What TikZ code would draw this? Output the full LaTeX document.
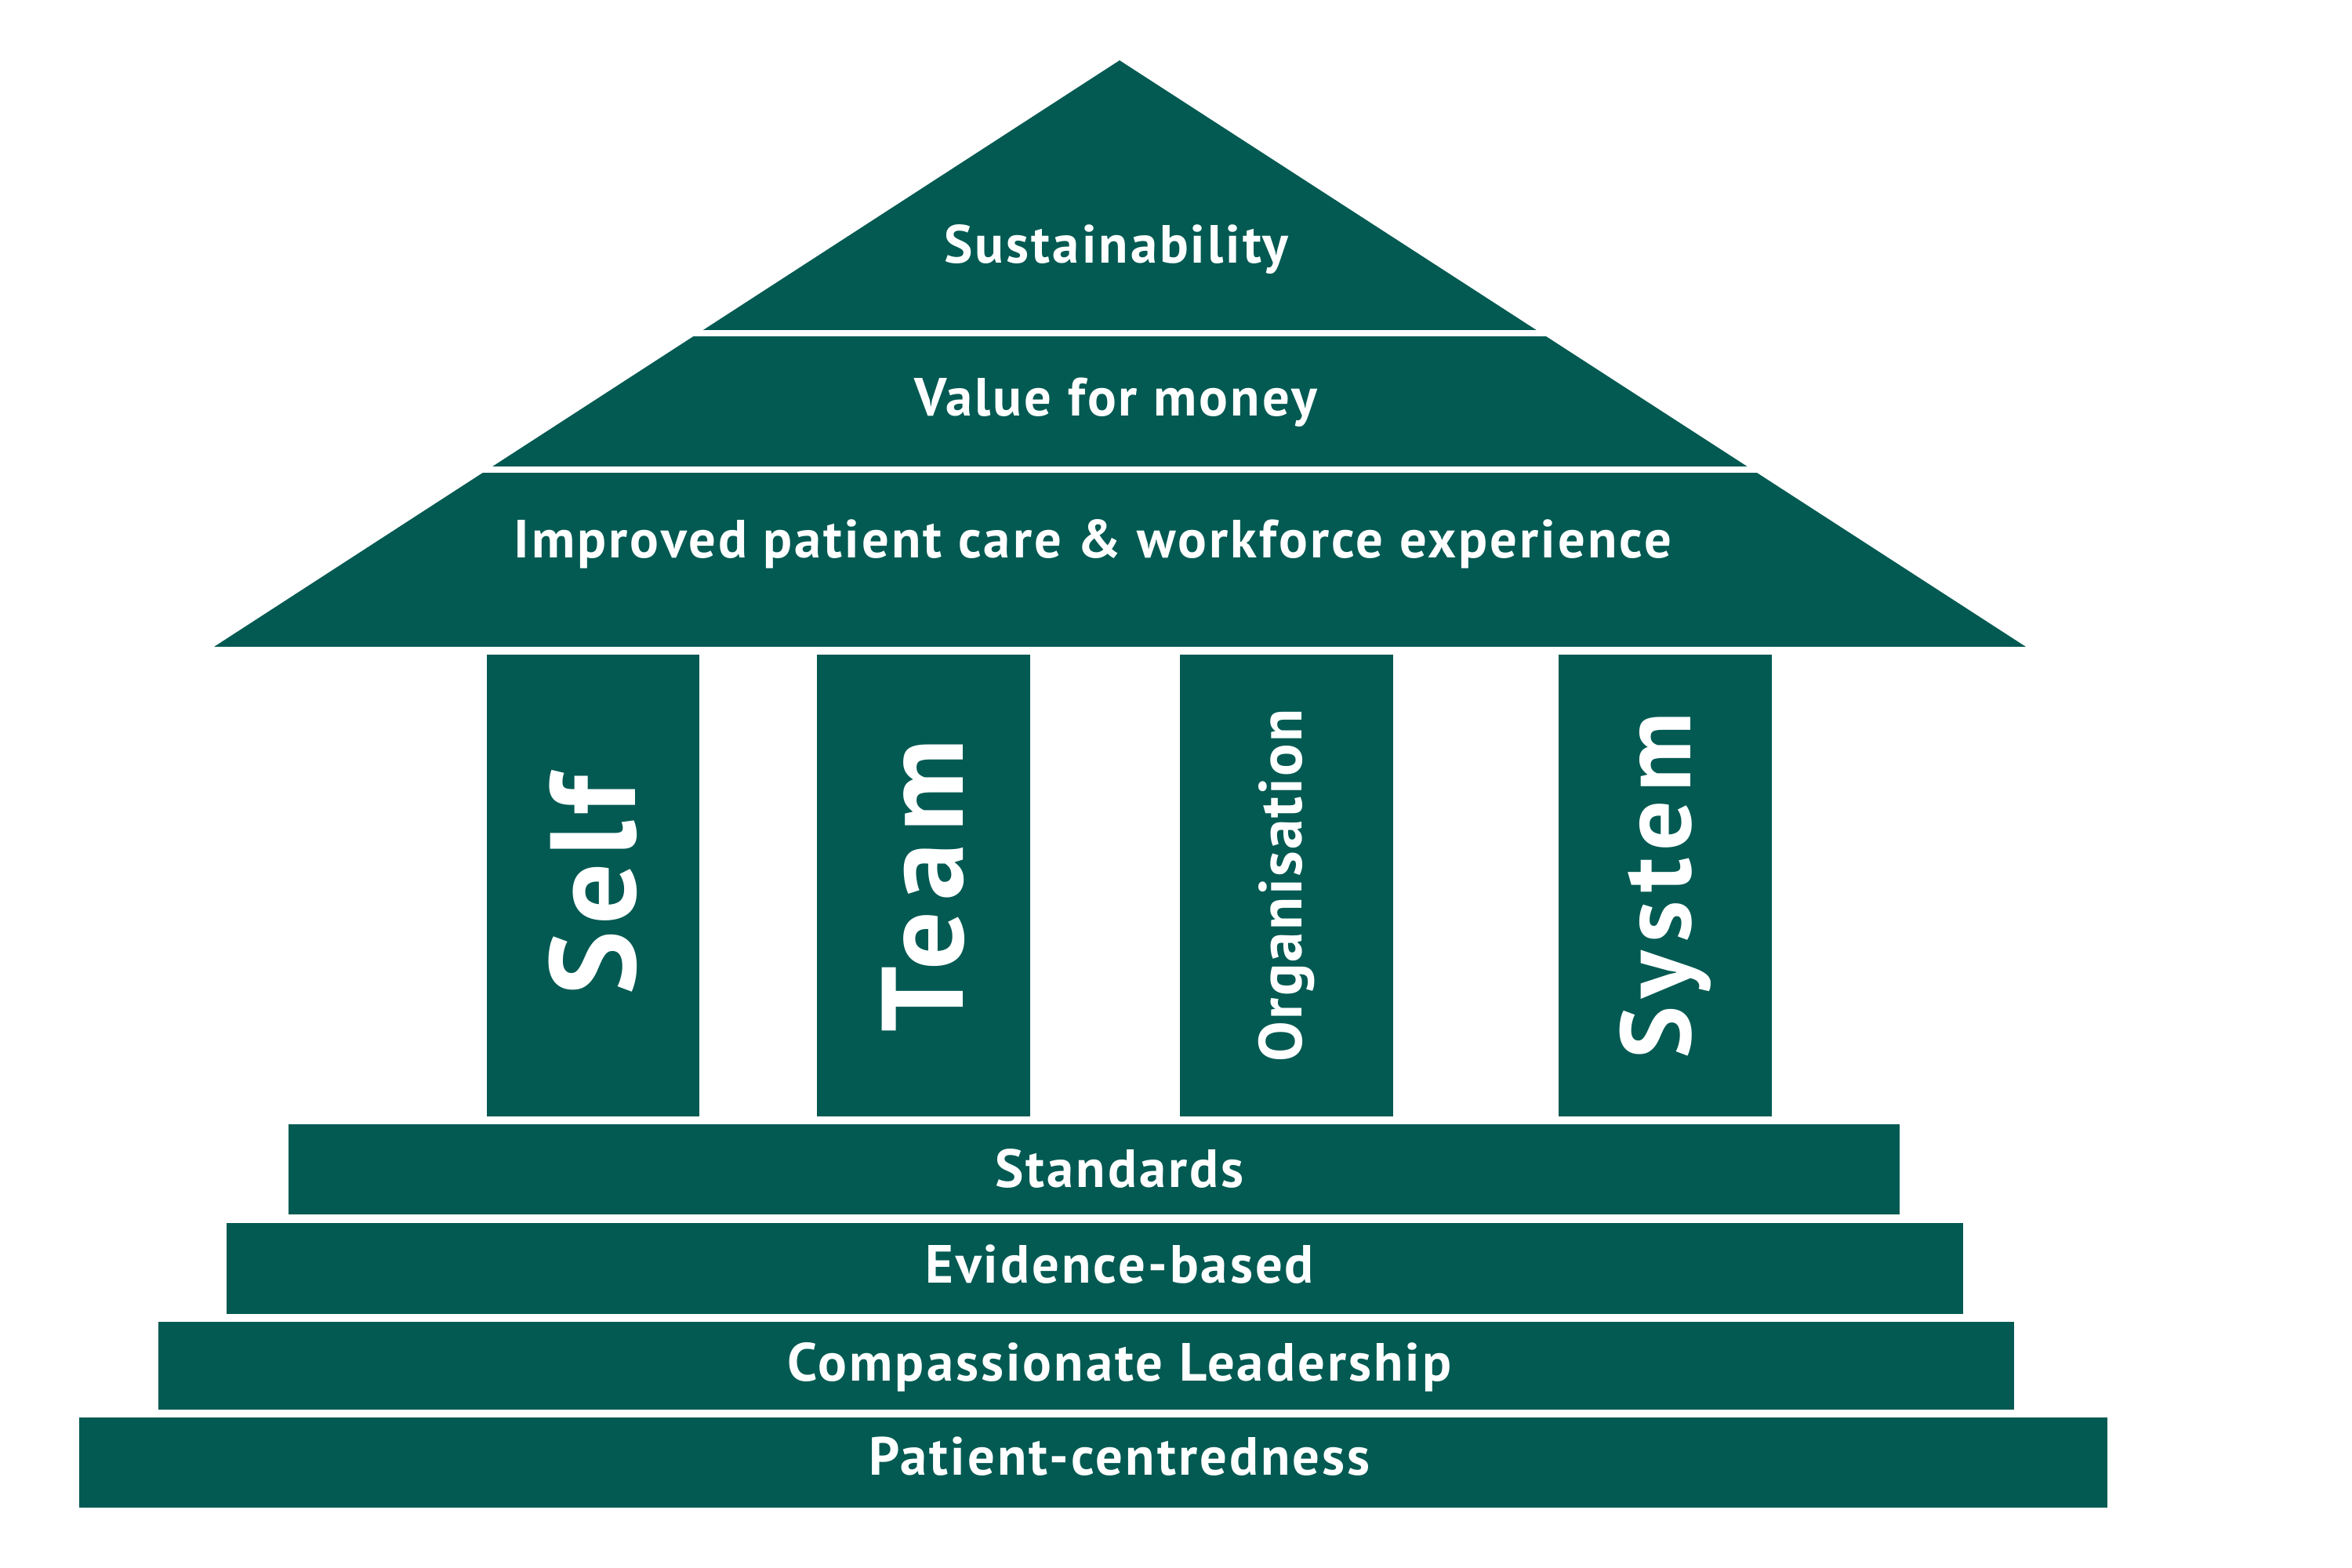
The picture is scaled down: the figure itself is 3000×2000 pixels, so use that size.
\documentclass[tikz,border=0pt]{standalone}
\usepackage{fontspec}
\setmainfont{PT Sans}[LetterSpace=4.5]
\usetikzlibrary{positioning}
\definecolor{housegreen}{HTML}{025A52}

\begin{document}
\begin{tikzpicture}[x=0.01cm,y=-0.01cm,
        pillar/.style={fill=housegreen,text=white,inner sep=0pt,outer sep=0pt,rotate=90,
            minimum width=5.89cm,minimum height=2.71cm},
        stepbar/.style={fill=housegreen,inner sep=0pt,outer sep=0pt},
        tierlabel/.style={text=white,inner sep=0pt,text height=13.7pt,text depth=0pt,
            font=\bfseries\fontsize{19.5}{21}\selectfont}]
        \useasboundingbox (0,0) rectangle (3000,2000);
        % roof
        \coordinate (apex) at (1428,77);
        \coordinate (eaveL) at (273,825);
        \coordinate (eaveR) at (2584,825);
        \begin{scope}
            \clip (eaveL) -- (apex) -- (eaveR) -- cycle;
            \fill[housegreen] (0,0) rectangle (3000,421);
            \fill[housegreen] (0,429) rectangle (3000,595);
            \fill[housegreen] (0,603) rectangle (3000,825);
        \end{scope}
        \node[tierlabel] (sust) at (1424,311) {Sustainability};
        \node[tierlabel] (vfm) at (1423,506) {Value for money};
        \node[tierlabel] (care) at (1394,687) {Improved patient care \& workforce experience};
        % pillars
        \foreach \nm/\cx/\fs/\ls/\txt in {self/756.5/44/5/Self, team/1178/42/9.5/Team, org/1641/22/3/Organisation, sys/2124/36/8/System} {
            \node[pillar,font=\bfseries\fontsize{\fs}{\fs}\selectfont\addfontfeatures{LetterSpace=\ls}] (\nm) at (\cx,1129.5) {\txt};
        }
        % steps
        \foreach \nm/\cx/\cy/\w/\h/\ty/\txt in {std/1395.5/1491.5/20.53/1.15/1490/Standards,
                evid/1396.5/1618/22.13/1.16/1612/Evidence-based,
                comp/1385.5/1742/23.65/1.12/1737/Compassionate Leadership,
                pat/1394.5/1865.5/25.85/1.15/1857/Patient-centredness} {
            \node[stepbar,minimum width=\w cm,minimum height=\h cm] (\nm) at (\cx,\cy) {};
            \node[tierlabel] at (apex |- 0,\ty) {\txt};
        }
    \end{tikzpicture}
\end{document}
